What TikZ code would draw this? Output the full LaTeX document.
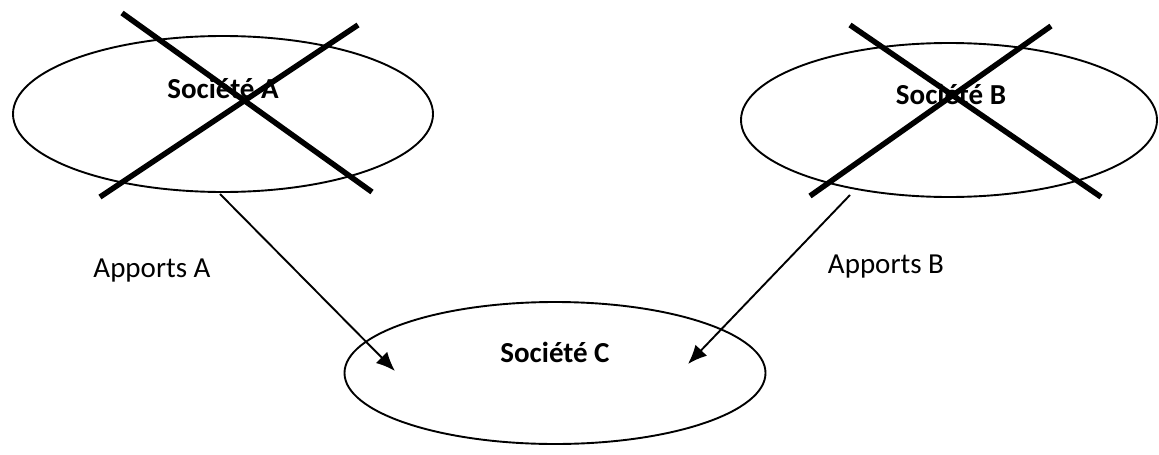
\documentclass[tikz,border=0pt]{standalone}
\usepackage{fontspec}
\setmainfont{Carlito}
\usetikzlibrary{shapes.geometric,arrows.meta}
\begin{document}
\begin{tikzpicture}[x=1pt,y=-1pt,
  company/.style={draw=black,line width=1.9pt,ellipse,inner sep=0pt},
  cross/.style={line width=5.5pt},
  flow/.style={line width=1.9pt,-{Latex[length=19pt,width=16pt]}},
  label/.style={font=\fontsize{29}{34}\selectfont,anchor=base,inner sep=0pt},
  title/.style={label,font=\fontsize{29}{34}\selectfont\bfseries}]
\useasboundingbox (0,0) rectangle (1159,455);

% companies
\node[company,minimum width=420pt,minimum height=156pt] (A) at (223,114) {};
\node[company,minimum width=416pt,minimum height=154pt] (B) at (949,120) {};
\node[company,minimum width=421pt,minimum height=142pt] (C) at (555,373) {};

% names
\node[title] (tA) at (223,98) {Société A};
\node[title] (tB) at (951,104) {Société B};
\node[title] (tC) at (555,362) {Société C};

% crossed-out companies
\draw[cross] (122,13) -- (372,192);
\draw[cross] (358,25) -- (100,197);
\draw[cross] (850,25) -- (1101,197);
\draw[cross] (1051,26) -- (810,196);

% contributions
\coordinate (sA) at (220,194);
\coordinate (eA) at (395,371);
\coordinate (sB) at (850,195);
\coordinate (eB) at (688,364);
\draw[flow] (sA) -- (eA);
\draw[flow] (sB) -- (eB);

\node[label] (lA) at (152,277) {Apports A};
\node[label] (lB) at (886,273) {Apports B};
\end{tikzpicture}
\end{document}
